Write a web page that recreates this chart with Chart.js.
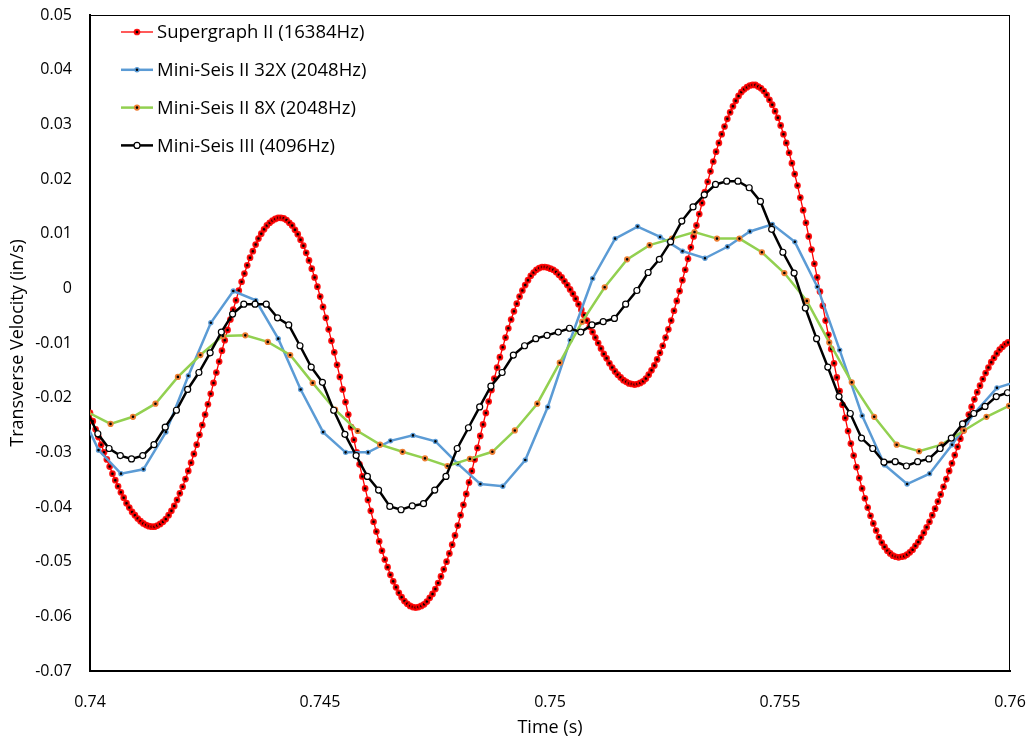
<!DOCTYPE html>
<html>
<head>
<meta charset="utf-8">
<title>Transverse velocity</title>
<script src="https://cdn.jsdelivr.net/npm/chart.js@4.4.1/dist/chart.umd.min.js"></script>
<style>
  html, body { margin: 0; padding: 0; background: #fff; }
  #wrap { width: 1031px; height: 742px; }
</style>
</head>
<body>
<div id="wrap"><canvas id="chart" width="1031" height="742"></canvas></div>
<script>
// ── Data ──────────────────────────────────────────────
const SERIES_NAMES = [
  "Supergraph II (16384Hz)",
  "Mini-Seis II 32X (2048Hz)",
  "Mini-Seis II 8X (2048Hz)",
  "Mini-Seis III (4096Hz)",
];

// sample clock of each record: first sample time (s) and rate (Hz)
const SUPER_START = 0.74,     SUPER_RATE = 16384;
const MINI32_START = 0.739697, MINI32_RATE = 2048;
const MINI8_START = 0.739958,  MINI8_RATE = 2048;
const MINI3_START = 0.739926,  MINI3_RATE = 4096;

// velocities, in/s
const superVel = [
  -0.0228,-0.0243,-0.0258,-0.0272,-0.0286,-0.0300,-0.0313,-0.0326,-0.0339,-0.0351,
  -0.0362,-0.0373,-0.0383,-0.0393,-0.0401,-0.0409,-0.0415,-0.0421,-0.0426,-0.0430,
  -0.0433,-0.0435,-0.0436,-0.0436,-0.0434,-0.0431,-0.0427,-0.0422,-0.0415,-0.0407,
  -0.0398,-0.0387,-0.0375,-0.0363,-0.0349,-0.0334,-0.0319,-0.0303,-0.0286,-0.0268,
  -0.0250,-0.0231,-0.0212,-0.0193,-0.0173,-0.0154,-0.0134,-0.0114,-0.0095,-0.0076,
  -0.0057,-0.0039,-0.0022,-0.0004, 0.0012, 0.0027, 0.0042, 0.0056, 0.0068, 0.0080,
   0.0091, 0.0100, 0.0108, 0.0115, 0.0120, 0.0124, 0.0127, 0.0129, 0.0129, 0.0128,
   0.0125, 0.0120, 0.0115, 0.0107, 0.0099, 0.0089, 0.0078, 0.0065, 0.0051, 0.0036,
   0.0020, 0.0003,-0.0015,-0.0034,-0.0054,-0.0075,-0.0096,-0.0117,-0.0140,-0.0162,
  -0.0185,-0.0208,-0.0231,-0.0254,-0.0277,-0.0300,-0.0322,-0.0344,-0.0366,-0.0387,
  -0.0407,-0.0427,-0.0445,-0.0463,-0.0480,-0.0496,-0.0510,-0.0524,-0.0536,-0.0547,
  -0.0557,-0.0565,-0.0572,-0.0577,-0.0581,-0.0583,-0.0584,-0.0583,-0.0581,-0.0578,
  -0.0573,-0.0566,-0.0559,-0.0550,-0.0539,-0.0527,-0.0514,-0.0500,-0.0485,-0.0469,
  -0.0452,-0.0434,-0.0415,-0.0396,-0.0376,-0.0355,-0.0334,-0.0313,-0.0292,-0.0270,
  -0.0249,-0.0228,-0.0207,-0.0186,-0.0165,-0.0145,-0.0126,-0.0108,-0.0090,-0.0073,
  -0.0057,-0.0042,-0.0028,-0.0015,-0.0004, 0.0006, 0.0015, 0.0023, 0.0029, 0.0034,
   0.0037, 0.0039, 0.0039, 0.0038, 0.0036, 0.0034, 0.0030, 0.0025, 0.0020, 0.0013,
   0.0006,-0.0002,-0.0010,-0.0019,-0.0029,-0.0039,-0.0049,-0.0059,-0.0070,-0.0080,
  -0.0090,-0.0100,-0.0110,-0.0120,-0.0128,-0.0137,-0.0145,-0.0152,-0.0158,-0.0163,
  -0.0168,-0.0171,-0.0174,-0.0175,-0.0176,-0.0175,-0.0173,-0.0170,-0.0165,-0.0158,
  -0.0150,-0.0141,-0.0130,-0.0118,-0.0105,-0.0090,-0.0075,-0.0059,-0.0041,-0.0023,
  -0.0005, 0.0015, 0.0034, 0.0054, 0.0075, 0.0095, 0.0115, 0.0136, 0.0156, 0.0176,
   0.0195, 0.0214, 0.0232, 0.0250, 0.0266, 0.0282, 0.0296, 0.0310, 0.0322, 0.0333,
   0.0343, 0.0352, 0.0359, 0.0364, 0.0368, 0.0371, 0.0372, 0.0372, 0.0369, 0.0366,
   0.0361, 0.0354, 0.0345, 0.0336, 0.0324, 0.0312, 0.0298, 0.0282, 0.0266, 0.0248,
   0.0229, 0.0209, 0.0188, 0.0166, 0.0143, 0.0120, 0.0095, 0.0071, 0.0045, 0.0020,
  -0.0006,-0.0032,-0.0059,-0.0085,-0.0111,-0.0137,-0.0163,-0.0188,-0.0213,-0.0237,
  -0.0261,-0.0284,-0.0306,-0.0327,-0.0347,-0.0366,-0.0384,-0.0401,-0.0416,-0.0430,
  -0.0443,-0.0455,-0.0465,-0.0473,-0.0480,-0.0485,-0.0489,-0.0491,-0.0492,-0.0491,
  -0.0490,-0.0487,-0.0483,-0.0478,-0.0471,-0.0464,-0.0456,-0.0447,-0.0437,-0.0427,
  -0.0415,-0.0403,-0.0390,-0.0377,-0.0363,-0.0349,-0.0334,-0.0320,-0.0305,-0.0290,
  -0.0275,-0.0260,-0.0245,-0.0231,-0.0217,-0.0203,-0.0190,-0.0178,-0.0166,-0.0155,
  -0.0145,-0.0135,-0.0127,-0.0119,-0.0112,-0.0107,-0.0102,-0.0099,
];

const mini32Vel = [
  -0.0207,-0.0296,-0.0339,-0.0331,-0.0263,-0.0160,-0.0063,-0.0005,-0.0022,-0.0092,
  -0.0185,-0.0263,-0.0300,-0.0300,-0.0279,-0.0269,-0.0280,-0.0321,-0.0358,-0.0362,
  -0.0314,-0.0217,-0.0095, 0.0018, 0.0091, 0.0113, 0.0094, 0.0068, 0.0055, 0.0076,
   0.0104, 0.0117, 0.0085, 0.0003,-0.0113,-0.0233,-0.0323,-0.0358,-0.0339,-0.0286,
  -0.0228,-0.0182,-0.0169,
];

const mini8Vel = [
  -0.0227,-0.0248,-0.0235,-0.0211,-0.0162,-0.0122,-0.0087,-0.0086,-0.0098,-0.0122,
  -0.0173,-0.0222,-0.0261,-0.0286,-0.0299,-0.0311,-0.0325,-0.0312,-0.0299,-0.0260,
  -0.0211,-0.0136,-0.0061, 0.0002, 0.0053, 0.0079, 0.0091, 0.0103, 0.0091, 0.0091,
   0.0066, 0.0028,-0.0023,-0.0099,-0.0172,-0.0235,-0.0286,-0.0298,-0.0286,-0.0260,
  -0.0235,-0.0215,
];

const mini3Vel = [
  -0.0224,-0.0266,-0.0293,-0.0306,-0.0312,-0.0306,-0.0286,-0.0254,-0.0223,-0.0185,
  -0.0154,-0.0118,-0.0080,-0.0047,-0.0029,-0.0029,-0.0029,-0.0054,-0.0067,-0.0105,
  -0.0144,-0.0172,-0.0223,-0.0267,-0.0306,-0.0344,-0.0369,-0.0399,-0.0405,-0.0398,
  -0.0394,-0.0369,-0.0344,-0.0293,-0.0255,-0.0217,-0.0179,-0.0154,-0.0122,-0.0105,
  -0.0092,-0.0086,-0.0080,-0.0073,-0.0080,-0.0067,-0.0061,-0.0055,-0.0029,-0.0004,
   0.0029, 0.0053, 0.0085, 0.0123, 0.0149, 0.0171, 0.0190, 0.0196, 0.0196, 0.0184,
   0.0159, 0.0108, 0.0066, 0.0028,-0.0036,-0.0092,-0.0144,-0.0198,-0.0229,-0.0274,
  -0.0293,-0.0318,-0.0317,-0.0325,-0.0317,-0.0312,-0.0293,-0.0274,-0.0248,-0.0229,
  -0.0216,-0.0198,-0.0191,
];

// ── Helpers ───────────────────────────────────────────
const FONT = "'Open Sans', 'Liberation Sans', sans-serif";

function toPoints(start, rate, vals) {
  return vals.map((v, i) => ({ x: start + i / rate, y: v }));
}
function trim(v, d) { return String(parseFloat(v.toFixed(d))); }

// plot-area frame (thin top/right edges)
const frame = {
  id: "frame",
  beforeDatasetsDraw(chart) {
    const { ctx, chartArea: a } = chart;
    ctx.save();
    ctx.strokeStyle = "#000";
    ctx.lineWidth = 1;
    ctx.strokeRect(a.left + 0.5, a.top + 0.5, a.right - a.left - 1, a.bottom - a.top);
    ctx.restore();
  },
};

// legend drawn inside the plot, line sample with its marker
const insideLegend = {
  id: "insideLegend",
  afterDraw(chart) {
    const { ctx } = chart;
    const x0 = 121, x1 = 153, tx = 157;
    ctx.save();
    ctx.font = `18.5px ${FONT}`;
    ctx.textBaseline = "middle";
    chart.data.datasets.forEach((ds, i) => {
      const y = 32 + i * 37.8;
      ctx.strokeStyle = ds.borderColor;
      ctx.lineWidth = ds.borderWidth;
      ctx.beginPath(); ctx.moveTo(x0, y); ctx.lineTo(x1, y); ctx.stroke();
      ctx.beginPath();
      ctx.arc((x0 + x1) / 2, y, ds.pointRadius, 0, Math.PI * 2);
      ctx.fillStyle = ds.pointBackgroundColor; ctx.fill();
      ctx.lineWidth = ds.pointBorderWidth; ctx.strokeStyle = ds.pointBorderColor; ctx.stroke();
      ctx.fillStyle = "#000";
      ctx.fillText(ds.label, tx, y + 1);
    });
    ctx.restore();
  },
};

// ── Chart ─────────────────────────────────────────────
new Chart(document.getElementById("chart"), {
  type: "line",
  data: {
    datasets: [
      {
        label: SERIES_NAMES[0], data: toPoints(SUPER_START, SUPER_RATE, superVel),
        borderColor: "#ff0000", borderWidth: 1.3,
        pointRadius: 2.3, pointBorderWidth: 2.1,
        pointBackgroundColor: "#000", pointBorderColor: "rgba(255,0,0,0.9)", order: 4,
      },
      {
        label: SERIES_NAMES[1], data: toPoints(MINI32_START, MINI32_RATE, mini32Vel),
        borderColor: "#5b9bd5", borderWidth: 2.5,
        pointRadius: 2, pointBorderWidth: 1.4,
        pointBackgroundColor: "#000", pointBorderColor: "#5b9bd5", order: 3,
      },
      {
        label: SERIES_NAMES[2], data: toPoints(MINI8_START, MINI8_RATE, mini8Vel),
        borderColor: "#92d050", borderWidth: 2.5,
        pointRadius: 2.2, pointBorderWidth: 1.8,
        pointBackgroundColor: "#000", pointBorderColor: "#ed7d31", order: 2,
      },
      {
        label: SERIES_NAMES[3], data: toPoints(MINI3_START, MINI3_RATE, mini3Vel),
        borderColor: "#000", borderWidth: 2.5,
        pointRadius: 3, pointBorderWidth: 1.2,
        pointBackgroundColor: "#fff", pointBorderColor: "#000", order: 1,
      },
    ],
  },
  options: {
    responsive: false,
    animation: false,
    devicePixelRatio: 1,
    layout: { padding: { top: 15, right: 21, left: 0, bottom: 0 } },
    elements: { line: { tension: 0 } },
    plugins: { legend: { display: false }, tooltip: { enabled: false } },
    scales: {
      x: {
        type: "linear", min: 0.74, max: 0.76,
        afterFit: s => { s.height = 71; s.paddingLeft = 0; s.paddingRight = 0; },
        grid: { display: false, drawTicks: false },
        border: { display: true, color: "#000", width: 2 },
        ticks: {
          stepSize: 0.005, padding: 22, maxRotation: 0, autoSkip: false,
          color: "#000", font: { family: FONT, size: 16 },
          callback: v => trim(v, 3),
        },
        title: {
          display: true, text: "Time (s)", color: "#000",
          font: { family: FONT, size: 18 }, padding: { top: 0, bottom: 3 },
        },
      },
      y: {
        min: -0.07, max: 0.05,
        afterFit: s => { s.width = 90; s.paddingTop = 0; s.paddingBottom = 0; },
        grid: { display: false, drawTicks: false },
        border: { display: true, color: "#000", width: 2 },
        ticks: {
          stepSize: 0.01, padding: 18, autoSkip: false,
          color: "#000", font: { family: FONT, size: 16 },
          callback: v => trim(v, 2),
        },
        title: {
          display: true, text: "Transverse Velocity (in/s)", color: "#000",
          font: { family: FONT, size: 18 }, padding: { top: 7, bottom: 0 },
        },
      },
    },
  },
  plugins: [frame, insideLegend],
});
</script>
</body>
</html>
